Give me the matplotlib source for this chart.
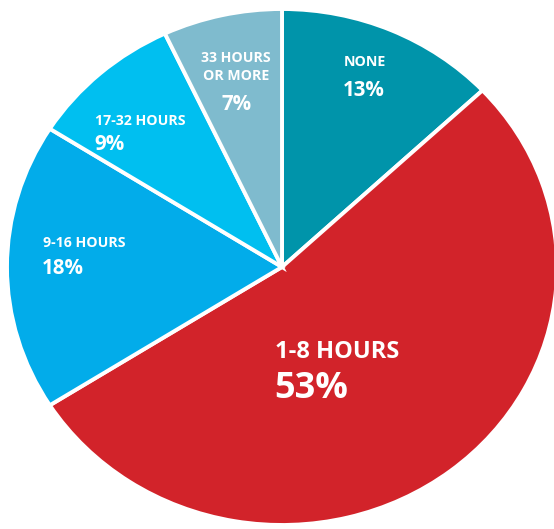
import matplotlib
matplotlib.use("Agg")
import matplotlib.pyplot as plt

categories = ["NONE", "1-8 HOURS", "9-16 HOURS", "17-32 HOURS", "33 HOURS\nOR MORE"]
values = [13, 53, 18, 9, 7]
pct_labels = ["13%", "53%", "18%", "9%", "7%"]
colors = ["#0094AA", "#D2232A", "#02ACEA", "#00BFF0", "#7FBBCE"]

W, H = 554, 529
fig = plt.figure(figsize=(W / 100, H / 100), dpi=100)
fig.patch.set_facecolor("white")

# axes spanning the (slightly elliptical) pie
left_px, right_px, top_px, bot_px = 7, 557, 9, 525
ax = fig.add_axes([left_px / W, (H - bot_px) / H, (right_px - left_px) / W, (bot_px - top_px) / H])
ax.pie(values, colors=colors, startangle=90, counterclock=False,
       wedgeprops=dict(edgecolor="white", linewidth=2.8), radius=1.0)
ax.set_aspect("auto")
ax.set_xlim(-1, 1)
ax.set_ylim(-1, 1)
ax.axis("off")

font = "Open Sans"

def put(px, py, s, size, ha="left"):
    fig.text(px / W, 1 - py / H, s, fontsize=size, fontweight="bold", color="white",
             family=font, ha=ha, va="baseline")

# label placements (pixel anchors, baseline)
# NONE
put(344, 66, categories[0], 10.2)
put(343, 96, pct_labels[0], 14.8)
# 1-8 HOURS
put(275, 358, categories[1], 17)
put(274, 398, pct_labels[1], 26)
# 9-16 HOURS
put(43, 247, categories[2], 10.2)
put(42, 274, pct_labels[2], 14.8)
# 17-32 HOURS
put(95, 125, categories[3], 10.2)
put(94, 150, pct_labels[3], 14.8)
# 33 HOURS OR MORE
put(236, 62, "33 HOURS", 10.2, ha="center")
put(236, 80, "OR MORE", 10.2, ha="center")
put(237, 110, pct_labels[4], 14.8, ha="center")

fig.savefig("out.png", dpi=100, facecolor="white")
